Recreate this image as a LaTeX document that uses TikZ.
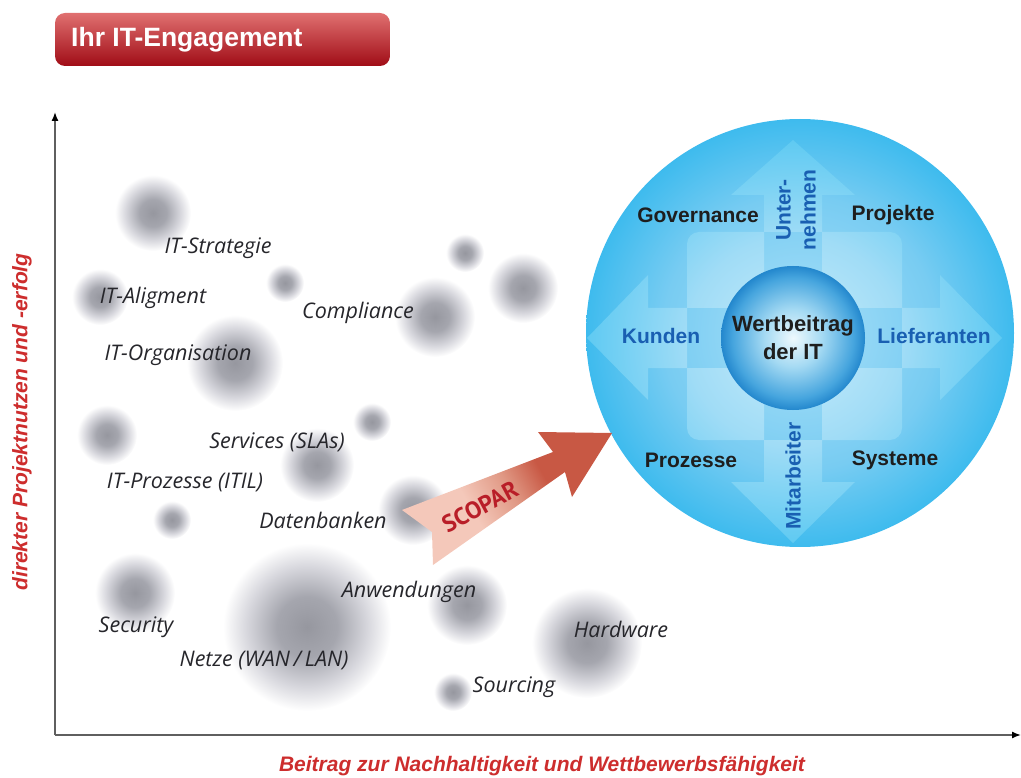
\documentclass[tikz,border=0pt]{standalone}
\usepackage{fontspec}
\setmainfont{Liberation Sans}
\newfontfamily\lab{Open Sans}
\newfontfamily\scf{PT Sans}
\usetikzlibrary{arrows.meta}
\definecolor{bl0}{RGB}{150,151,159}
\definecolor{bl1}{RGB}{165,166,174}
\definecolor{bl2}{RGB}{215,215,221}
\definecolor{c0}{RGB}{170,224,248}
\definecolor{c1}{RGB}{120,204,242}
\definecolor{c2}{RGB}{62,187,238}
\definecolor{x0}{RGB}{200,236,251}
\definecolor{x1}{RGB}{160,220,246}
\definecolor{x2}{RGB}{95,202,242}
\definecolor{s0}{RGB}{238,249,253}
\definecolor{s1}{RGB}{165,218,243}
\definecolor{s2}{RGB}{70,165,222}
\definecolor{s3}{RGB}{35,135,205}
\definecolor{sc0}{RGB}{244,200,186}
\definecolor{sc1}{RGB}{224,152,132}
\definecolor{sc2}{RGB}{200,88,68}
\definecolor{txtc}{RGB}{30,30,30}
\definecolor{bluec}{RGB}{25,95,178}
\definecolor{lblc}{RGB}{38,38,43}
\definecolor{axc}{RGB}{205,45,45}
\definecolor{axgray}{RGB}{95,95,95}
\definecolor{scoptxt}{RGB}{185,30,40}
\definecolor{tA}{RGB}{224,112,112}
\definecolor{tB}{RGB}{198,30,42}
\definecolor{tC}{RGB}{160,12,22}
\pgfdeclareradialshading{blobsh}{\pgfpoint{0bp}{0bp}}{color(0bp)=(bl0); color(9bp)=(bl1); color(18bp)=(bl2); color(25bp)=(white); color(50bp)=(white)}
\pgfdeclareradialshading{bigsh}{\pgfpoint{0bp}{0bp}}{color(0bp)=(c0); color(16bp)=(c1); color(25bp)=(c2); color(50bp)=(c2)}
\pgfdeclareradialshading{crosssh}{\pgfpoint{0bp}{0bp}}{color(0bp)=(x0); color(13bp)=(x1); color(25bp)=(x2); color(50bp)=(x2)}
\pgfdeclareradialshading{sph}{\pgfpoint{0bp}{0bp}}{color(0bp)=(s0); color(10bp)=(s1); color(21bp)=(s2); color(25bp)=(s3); color(50bp)=(s3)}
\pgfdeclarehorizontalshading{scopsh}{100bp}{color(0bp)=(sc0); color(40bp)=(sc0); color(52bp)=(sc1); color(62bp)=(sc2); color(100bp)=(sc2)}
\begin{document}
\begin{tikzpicture}[x=1pt,y=-1pt,
  lbl/.style={font=\lab\itshape\fontsize{21.5}{24}\selectfont, text=lblc, inner sep=0pt},
  circtxt/.style={font=\bfseries\fontsize{21}{26}\selectfont, text=txtc, inner sep=0pt},
  bluetxt/.style={circtxt, text=bluec},
  axlbl/.style={font=\bfseries\itshape\fontsize{21}{24}\selectfont, text=axc, inner sep=0pt},
  axisline/.style={draw=axgray, line width=1.4pt, -{Latex[length=9pt,width=7pt,color=black]}}]
\useasboundingbox (0,0) rectangle (1021,778);
% blobs
\foreach \bx/\by/\br in {153/213/38, 100/297/28, 285/283/19, 235/363/48, 465/253/19, 523/288/35, 435/317/40, 107/435/30, 372/422/19, 317/465/37, 172/520/19, 413/510/35, 135/593/40, 307/627/84, 467/605/40, 587/643/55, 453/692/19}
  \shade[shading=blobsh] (\bx,\by) circle[radius=\br pt];
% title banner
\shade[top color=tA, middle color=tB, bottom color=tC, rounded corners=10pt] (55,13) rectangle (390,66);
\node[anchor=west, inner sep=0pt, text=white, font=\bfseries\fontsize{26.5}{30}\selectfont] (title) at (71,40) {Ihr IT-Engagement};
% axes
\coordinate (O) at (55,735);
\coordinate (ytop) at (55,112);
\coordinate (xend) at (1021,735);
\draw[axisline] (O) -- (ytop);
\draw[axisline] (O) -- (xend);
\node[axlbl] (xlab) at (542,766) {Beitrag zur Nachhaltigkeit und Wettbewerbsfähigkeit};
\node[axlbl, rotate=90] (ylab) at (22,422) {direkter Projektnutzen und -erfolg};
% labels
\node[lbl] (l1) at (218,248) {IT-Strategie};
\node[lbl] (l2) at (153,298) {IT-Aligment};
\node[lbl] (l3) at (178,355) {IT-Organisation};
\node[lbl] (l4) at (358,313) {Compliance};
\node[lbl] (l5) at (277,442) {Services (SLAs)};
\node[lbl] (l6) at (185,483) {IT-Prozesse (ITIL)};
\node[lbl] (l7) at (323,520) {Datenbanken};
\node[lbl] (l8) at (409,592) {Anwendungen};
\node[lbl] (l9) at (136,627) {Security};
\node[lbl] (l10) at (264,661) {Netze (WAN\,/\,LAN)};
\node[lbl] (l11) at (621,629) {Hardware};
\node[lbl] (l12) at (514,687) {Sourcing};
% big circle
\shade[shading=bigsh] (800,333) circle[radius=214pt];
\shade[shading=crosssh] [rounded corners=12pt] (687,232) rectangle (902,440) [sharp corners]
  (793,140) -- (855,195) -- (822,195) -- (822,308) -- (940,308) -- (940,275) -- (1002,338)
  -- (940,400) -- (940,368) -- (822,368) -- (822,482) -- (855,482) -- (793,543)
  -- (731,482) -- (764,482) -- (764,368) -- (648,368) -- (648,400) -- (587,338)
  -- (648,275) -- (648,308) -- (764,308) -- (764,195) -- (731,195) -- cycle;
\node[circle, minimum size=144pt, inner sep=0pt, shade, shading=sph, circtxt, align=center, font=\bfseries\fontsize{22}{28}\selectfont] (core) at (793,338) {Wertbeitrag\\der IT};
\node[circtxt] (gov) at (698,215) {Governance};
\node[circtxt] (proj) at (893,215) {Projekte};
\node[circtxt] (proz) at (691,460) {Prozesse};
\node[circtxt] (sys) at (895,460) {Systeme};
\node[bluetxt] (kun) at (661,336) {Kunden};
\node[bluetxt] (lief) at (934,336) {Lieferanten};
\node[bluetxt, rotate=90, align=center, font=\bfseries\fontsize{21}{25}\selectfont] (unt) at (796,210) {Unter-\\nehmen};
\node[bluetxt, rotate=90] (mit) at (793,476) {Mitarbeiter};
% SCOPAR arrow
\shade[shading=scopsh, shading angle=30] (402,510) -- (553,452) -- (538,432) -- (612,433) -- (572,497) -- (565,472) -- (433,565) -- (432,532) -- cycle;
\node[rotate=28, inner sep=0pt, text=scoptxt, font=\scf\bfseries\fontsize{24}{26}\selectfont] (scopar) at (480,507) {SCOPAR};
\end{tikzpicture}
\end{document}
